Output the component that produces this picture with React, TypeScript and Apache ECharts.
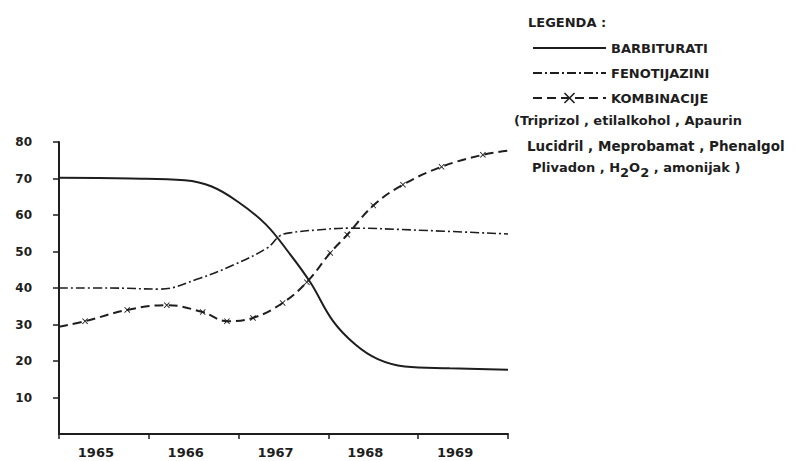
import React, { useEffect, useRef } from "react";
import * as echarts from "echarts";

const years = ["1965", "1966", "1967", "1968", "1969"];
const seriesNames = ["BARBITURATI", "FENOTIJAZINI", "KOMBINACIJE"];

const barbituratiX = [1964.5, 1965.3, 1965.9, 1966.2, 1966.5, 1966.8, 1967.05, 1967.3, 1967.55, 1967.8, 1968.05, 1968.35, 1968.85, 1969.5];
const barbituratiY = [70.2, 70, 69.5, 67.8, 63.5, 57.5, 50, 41.5, 31, 24.5, 20.5, 18.5, 18, 17.6];

const fenotijaziniX = [1964.5, 1965.07, 1965.62, 1966.07, 1966.44, 1966.82, 1966.96, 1967.07, 1967.37, 1967.74, 1968.44, 1969.5];
const fenotijaziniY = [40, 40, 39.7, 42.7, 46.3, 51, 54.3, 55.1, 55.9, 56.4, 55.9, 54.8];

const kombinacijeX = [1964.5, 1964.79, 1965.26, 1965.7, 1966.1, 1966.37, 1966.66, 1966.99, 1967.26, 1967.52, 1967.71, 1968.0, 1968.33, 1968.76, 1969.22, 1969.5];
const kombinacijeY = [29.4, 30.9, 34, 35.3, 33.4, 30.9, 31.8, 35.9, 41.6, 49.6, 54.6, 62.6, 68.3, 73.2, 76.5, 77.6];

const legendTitle = "LEGENDA :";
const noteLine1 = "(Triprizol , etilalkohol , Apaurin";
const noteLine2 = "Lucidril , Meprobamat , Phenalgol";

const INK = "#1e1e1e";
const FONT = "DejaVu Sans";
const X_MARK = "path://M0,1L1,0L5,4L9,0L10,1L6,5L10,9L9,10L5,6L1,10L0,9L4,5Z";

function pairs(xs: number[], ys: number[]) {
  return xs.map((x, i) => [x, ys[i]]);
}

export default function App() {
  const ref = useRef<HTMLDivElement>(null);
  useEffect(() => {
    if (!ref.current) return;
    const chart = echarts.init(ref.current, undefined, { renderer: "svg" });
    const komb = pairs(kombinacijeX, kombinacijeY).map((v, i, arr) =>
      i === 0 || i === arr.length - 1 ? { value: v, symbol: "none" } : { value: v }
    );
    chart.setOption({
      animation: false,
      backgroundColor: "#ffffff",
      title: {
        text: legendTitle,
        left: 523,
        top: 11,
        textStyle: { fontFamily: FONT, fontSize: 13, fontWeight: "bold", color: INK },
      },
      legend: {
        data: [
          { name: seriesNames[0], itemStyle: { opacity: 0 } },
          { name: seriesNames[1], itemStyle: { opacity: 0 } },
          { name: seriesNames[2] },
        ],
        orient: "vertical",
        left: 527,
        top: 36,
        itemWidth: 73,
        itemHeight: 14,
        itemGap: 11,
        textStyle: { fontFamily: FONT, fontSize: 13, fontWeight: "bold", color: INK, lineHeight: 14 },
      },
      grid: { left: 59, right: 289, top: 142, bottom: 27 },
      xAxis: [
        {
          type: "category",
          data: years,
          boundaryGap: true,
          axisLine: { lineStyle: { color: INK, width: 2 } },
          axisTick: { show: true, length: 5, lineStyle: { color: INK, width: 1.5 } },
          axisLabel: {
            fontFamily: FONT,
            fontSize: 13,
            fontWeight: "bold",
            color: INK,
            margin: 12,
            padding: [0, 16, 0, 0],
          },
          splitLine: { show: false },
        },
        {
          type: "value",
          min: 1964.5,
          max: 1969.5,
          show: false,
          splitLine: { show: false },
        },
      ],
      yAxis: {
        type: "value",
        min: 0,
        max: 80,
        interval: 10,
        axisLine: { show: true, lineStyle: { color: INK, width: 2 } },
        axisTick: { show: true, length: 6, lineStyle: { color: INK, width: 1.5 } },
        axisLabel: {
          fontFamily: FONT,
          fontSize: 12,
          fontWeight: "bold",
          color: INK,
          margin: 27,
          showMinLabel: false,
          formatter: (v: number) => (v === 0 ? "" : String(v)),
        },
        splitLine: { show: false },
      },
      graphic: [
        {
          type: "text",
          left: 514,
          top: 114,
          style: { text: noteLine1, fontFamily: FONT, fontSize: 13, fontWeight: "bold", fill: INK },
        },
        {
          type: "text",
          left: 527,
          top: 139,
          style: { text: noteLine2, fontFamily: FONT, fontSize: 13.5, fontWeight: "bold", fill: INK },
        },
        {
          type: "text",
          left: 532,
          top: 161,
          style: {
            text: "Plivadon , H{s|2}O{s|2} , amonijak )",
            fontFamily: FONT,
            fontSize: 13,
            fontWeight: "bold",
            fill: INK,
            rich: {
              s: { fontFamily: FONT, fontSize: 13, fontWeight: "bold", fill: INK, padding: [10, 0, 0, 0] },
            },
          },
        },
      ],
      series: [
        {
          name: seriesNames[0],
          type: "line",
          xAxisIndex: 1,
          data: pairs(barbituratiX, barbituratiY),
          smooth: 0.4,
          symbol: "none",
          lineStyle: { color: INK, width: 2, type: "solid" },
          itemStyle: { color: INK },
        },
        {
          name: seriesNames[1],
          type: "line",
          xAxisIndex: 1,
          data: pairs(fenotijaziniX, fenotijaziniY),
          smooth: 0.4,
          symbol: "none",
          lineStyle: { color: INK, width: 1.6, type: [9, 3, 2, 3] },
          itemStyle: { color: INK },
        },
        {
          name: seriesNames[2],
          type: "line",
          xAxisIndex: 1,
          data: komb,
          smooth: 0.4,
          symbol: X_MARK,
          symbolSize: 6,
          showSymbol: true,
          lineStyle: { color: INK, width: 2, type: [9, 5] },
          itemStyle: { color: INK },
        },
      ],
    });
    return () => chart.dispose();
  }, []);
  return (
    <div
      ref={ref}
      style={{ position: "fixed", left: 0, top: 0, width: 797, height: 461, background: "#fff" }}
    />
  );
}
